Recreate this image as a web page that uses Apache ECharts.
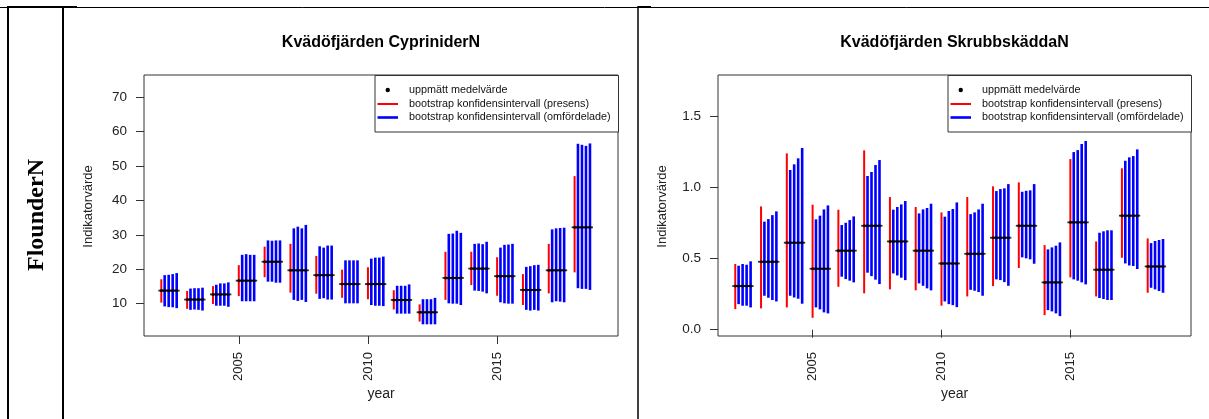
<!DOCTYPE html>
<html>
<head>
<meta charset="utf-8">
<title>FlounderN – Kvädöfjärden</title>
<script src="https://cdn.jsdelivr.net/npm/echarts@6/dist/echarts.min.js"></script>
<style>
  html, body { margin: 0; padding: 0; background: #fff; }
  #chart { width: 1209px; height: 419px; }
</style>
</head>
<body>
<div id="chart"></div>
<script>
// ---- data -------------------------------------------------------------
const years = [2002, 2003, 2004, 2005, 2006, 2007, 2008, 2009, 2010,
               2011, 2012, 2013, 2014, 2015, 2016, 2017, 2018];
const xTicks = [2005, 2010, 2015];

// Kvädöfjärden CypriniderN
const cypTicks = [10, 20, 30, 40, 50, 60, 70];
const cypMean = [13.8, 11.2, 12.7, 16.7, 22.2, 19.7, 18.3, 15.7, 15.7,
                 11.1, 7.5, 17.5, 20.2, 18.0, 14.0, 19.7, 32.2];
const cypPresLow = [10.3, 8.5, 9.9, 12.2, 17.7, 13.2, 12.9, 11.7, 11.3,
                    8.3, 4.8, 11.1, 15.4, 12.3, 9.6, 13.0, 19.1];
const cypPresHigh = [17.1, 13.7, 15.1, 21.2, 26.6, 27.4, 23.9, 19.9, 20.6,
                     13.9, 9.8, 25.1, 25.1, 23.5, 18.6, 27.4, 47.1];
const cypOmfLow = [
  [9.2, 9.0, 8.95, 8.7], [8.2, 8.3, 8.2, 8.0], [9.4, 9.4, 9.4, 9.1],
  [10.7, 10.7, 10.7, 10.7], [16.4, 16.4, 16.1, 16.1], [11.1, 10.8, 11.1, 10.5],
  [11.4, 11.6, 11.2, 11.2], [10.1, 10.1, 10.1, 10.1], [9.6, 9.4, 9.4, 9.3],
  [7.1, 7.1, 7.1, 7.1], [4.0, 4.0, 4.0, 4.0], [10.1, 10.0, 10.0, 9.6],
  [13.8, 13.7, 13.5, 13.0], [10.4, 10.1, 10.0, 10.0], [8.2, 8.0, 8.2, 8.0],
  [10.4, 10.7, 10.6, 10.4], [14.5, 14.3, 14.3, 14.0]
];
const cypOmfHigh = [
  [18.3, 18.4, 18.6, 18.9], [14.4, 14.5, 14.5, 14.65], [15.5, 15.9, 15.9, 16.2],
  [24.2, 24.4, 24.2, 24.2], [28.4, 28.3, 28.4, 28.4], [31.9, 32.4, 31.9, 32.9],
  [26.7, 26.3, 26.9, 26.9], [22.6, 22.6, 22.6, 22.6], [23.1, 23.4, 23.4, 23.7],
  [15.2, 15.2, 15.2, 15.6], [11.3, 11.3, 11.3, 11.7], [30.3, 30.4, 31.2, 30.6],
  [27.4, 27.5, 27.3, 28.0], [26.3, 27.1, 27.2, 27.4], [20.7, 20.9, 21.2, 21.3],
  [31.6, 31.9, 32.0, 32.1], [56.5, 56.2, 55.9, 56.6]
];

// Kvädöfjärden SkrubbskäddaN
const skrTicks = [0, 0.5, 1.0, 1.5];
const skrMean = [0.307, 0.478, 0.612, 0.429, 0.556, 0.731, 0.621, 0.556, 0.466,
                 0.534, 0.647, 0.731, 0.333, 0.755, 0.422, 0.802, 0.445];
const skrPresLow = [0.145, 0.150, 0.157, 0.084, 0.302, 0.256, 0.284, 0.277, 0.169,
                    0.234, 0.307, 0.434, 0.103, 0.368, 0.234, 0.506, 0.260];
const skrPresHigh = [0.462, 0.867, 1.240, 0.879, 0.844, 1.261, 0.933, 0.863, 0.825,
                     0.933, 1.008, 1.036, 0.595, 1.200, 0.621, 1.135, 0.642];
const skrOmfLow = [
  [0.180, 0.169, 0.169, 0.157], [0.239, 0.225, 0.209, 0.199], [0.239, 0.227, 0.218, 0.183],
  [0.157, 0.143, 0.122, 0.115], [0.373, 0.356, 0.345, 0.333], [0.401, 0.377, 0.352, 0.321],
  [0.396, 0.382, 0.366, 0.349], [0.326, 0.309, 0.291, 0.277], [0.199, 0.180, 0.173, 0.159],
  [0.281, 0.274, 0.265, 0.239], [0.354, 0.349, 0.335, 0.309], [0.509, 0.502, 0.495, 0.464],
  [0.138, 0.129, 0.115, 0.096], [0.354, 0.345, 0.333, 0.319], [0.223, 0.216, 0.209, 0.209],
  [0.466, 0.452, 0.448, 0.427], [0.295, 0.284, 0.272, 0.260]
];
const skrOmfHigh = [
  [0.450, 0.462, 0.457, 0.481], [0.760, 0.778, 0.806, 0.832], [1.123, 1.163, 1.205, 1.278],
  [0.776, 0.802, 0.846, 0.874], [0.736, 0.752, 0.771, 0.797], [1.081, 1.109, 1.158, 1.193],
  [0.844, 0.863, 0.881, 0.905], [0.818, 0.846, 0.856, 0.886], [0.795, 0.835, 0.849, 0.895],
  [0.813, 0.825, 0.846, 0.886], [0.975, 0.989, 0.994, 1.024], [0.970, 0.977, 0.980, 1.024],
  [0.565, 0.579, 0.591, 0.614], [1.249, 1.263, 1.306, 1.327], [0.682, 0.692, 0.699, 0.699],
  [1.188, 1.212, 1.221, 1.268], [0.609, 0.624, 0.631, 0.638]
];

const legendLabels = ['uppmätt medelvärde',
                      'bootstrap konfidensintervall (presens)',
                      'bootstrap konfidensintervall (omfördelade)'];

// ---- layout / style ----------------------------------------------------
const FONT = '"Liberation Sans", Arial, Helvetica, sans-serif';
const SERIF = '"Liberation Serif", "Times New Roman", serif';
const RED = '#ff0000', BLUE = '#0000ff';
const OMF_SHIFT = [0.13, 0.285, 0.44, 0.595];   // horizontal spread of the four resampled intervals
const X_MIN = 2001.33, X_MAX = 2019.68;

const panels = [
  { title: 'Kvädöfjärden CypriniderN', left: 144, width: 474,
    yMin: 0.6, yMax: 76.5, ticks: cypTicks, fmt: v => String(v),
    mean: cypMean, pLo: cypPresLow, pHi: cypPresHigh, oLo: cypOmfLow, oHi: cypOmfHigh },
  { title: 'Kvädöfjärden SkrubbskäddaN', left: 718, width: 473,
    yMin: -0.044, yMax: 1.791, ticks: skrTicks, fmt: v => v.toFixed(1),
    mean: skrMean, pLo: skrPresLow, pHi: skrPresHigh, oLo: skrOmfLow, oHi: skrOmfHigh }
];
const GRID_TOP = 75, GRID_H = 261;

function presData(p) {
  return years.map((y, i) => [y, p.pLo[i], p.pHi[i]]);
}
function omfData(p) {
  const out = [];
  years.forEach((y, i) => OMF_SHIFT.forEach((s, k) => out.push([y + s, p.oLo[i][k], p.oHi[i][k]])));
  return out;
}
function meanData(p) {
  const out = [];
  years.forEach((y, i) => [0].concat(OMF_SHIFT).forEach(s => out.push([y + s, p.mean[i]])));
  return out;
}
function intervalRenderer(color, width) {
  return function (params, api) {
    const a = api.coord([api.value(0), api.value(1)]);
    const b = api.coord([api.value(0), api.value(2)]);
    return {
      type: 'line',
      shape: { x1: a[0], y1: a[1], x2: b[0], y2: b[1] },
      style: { stroke: color, lineWidth: width, lineCap: 'butt' }
    };
  };
}

const grid = [], xAxis = [], yAxis = [], series = [], graphic = [];

panels.forEach((p, gi) => {
  grid.push({ left: p.left, top: GRID_TOP, width: p.width, height: GRID_H,
              show: true, borderColor: '#333', borderWidth: 1, containLabel: false });
  xAxis.push({
    type: 'value', gridIndex: gi, min: X_MIN, max: X_MAX,
    axisLine: { show: false }, splitLine: { show: false },
    axisTick: { show: true, customValues: xTicks, length: 8, lineStyle: { color: '#333', width: 1 } },
    axisLabel: { customValues: xTicks, rotate: 90, margin: 16, fontSize: 13,
                 color: '#222', fontFamily: FONT, formatter: v => String(v) }
  });
  yAxis.push({
    type: 'value', gridIndex: gi, min: p.yMin, max: p.yMax,
    axisLine: { show: false }, splitLine: { show: false },
    axisTick: { show: true, customValues: p.ticks, length: 8, lineStyle: { color: '#333', width: 1 } },
    axisLabel: { customValues: p.ticks, margin: 17, fontSize: 13.5,
                 color: '#222', fontFamily: FONT, formatter: p.fmt }
  });

  series.push({
    type: 'custom', name: legendLabels[1], xAxisIndex: gi, yAxisIndex: gi,
    renderItem: intervalRenderer(RED, 2), encode: { x: 0, y: [1, 2] },
    data: presData(p), silent: true, z: 2
  });
  series.push({
    type: 'custom', name: legendLabels[2], xAxisIndex: gi, yAxisIndex: gi,
    renderItem: intervalRenderer(BLUE, 2.6), encode: { x: 0, y: [1, 2] },
    data: omfData(p), silent: true, z: 3
  });
  series.push({
    type: 'scatter', name: legendLabels[0], xAxisIndex: gi, yAxisIndex: gi,
    symbol: 'rect', symbolSize: [6, 1.8], itemStyle: { color: '#000' },
    data: meanData(p), silent: true, z: 4
  });
  series.push({
    type: 'scatter', name: legendLabels[0], xAxisIndex: gi, yAxisIndex: gi,
    symbol: 'circle', symbolSize: 3, itemStyle: { color: '#000' },
    data: meanData(p), silent: true, z: 5
  });

  const cx = p.left + p.width / 2;
  const right = p.left + p.width;
  // panel title
  graphic.push({ type: 'text', x: cx, y: 42.5,
    style: { text: p.title, font: 'bold 16px ' + FONT, fill: '#000',
             textAlign: 'center', textVerticalAlign: 'middle' } });
  // axis names
  graphic.push({ type: 'text', x: cx, y: 394,
    style: { text: 'year', font: '14px ' + FONT, fill: '#222',
             textAlign: 'center', textVerticalAlign: 'middle' } });
  graphic.push({ type: 'text', x: p.left - 56, y: GRID_TOP + GRID_H / 2 + 1, rotation: Math.PI / 2,
    style: { text: 'Indikatorvärde', font: '13px ' + FONT, fill: '#222',
             textAlign: 'center', textVerticalAlign: 'middle' } });

  // legend box in the upper right corner of the plot
  const lw = 243.5, lh = 56.5;
  const lx = right - lw;
  graphic.push({ type: 'rect', shape: { x: lx + 0.5, y: GRID_TOP + 0.5, width: lw, height: lh },
    style: { fill: '#fff', stroke: '#333', lineWidth: 1 }, z: 10 });
  const keyX1 = lx + 3, keyX2 = lx + 23.5, textX = lx + 34.5;
  const rows = [GRID_TOP + 15, GRID_TOP + 29, GRID_TOP + 42.5];
  graphic.push({ type: 'circle', shape: { cx: (keyX1 + keyX2) / 2, cy: rows[0], r: 2.2 },
    style: { fill: '#000' }, z: 11 });
  graphic.push({ type: 'line', shape: { x1: keyX1, y1: rows[1], x2: keyX2, y2: rows[1] },
    style: { stroke: RED, lineWidth: 2 }, z: 11 });
  graphic.push({ type: 'line', shape: { x1: keyX1, y1: rows[2], x2: keyX2, y2: rows[2] },
    style: { stroke: BLUE, lineWidth: 2.6 }, z: 11 });
  legendLabels.forEach((t, i) => graphic.push({ type: 'text', x: textX, y: rows[i], z: 11,
    style: { text: t, font: '10.8px ' + FONT, fill: '#111',
             textAlign: 'left', textVerticalAlign: 'middle' } }));
});

// table frame around the figure row
const frame = [
  { x1: 0, y1: 7.5, x2: 1209, y2: 7.5, w: 1 },
  { x1: 7, y1: 7, x2: 77, y2: 7, w: 2 },
  { x1: 638, y1: 7, x2: 651, y2: 7, w: 2 },
  { x1: 8, y1: 6, x2: 8, y2: 419, w: 2 },
  { x1: 63, y1: 6, x2: 63, y2: 419, w: 2 },
  { x1: 638, y1: 6, x2: 638, y2: 419, w: 1.5 }
];
frame.forEach(f => graphic.push({ type: 'line', shape: { x1: f.x1, y1: f.y1, x2: f.x2, y2: f.y2 },
  style: { stroke: '#000', lineWidth: f.w }, z: 20 }));
// row header
graphic.push({ type: 'text', x: 37, y: 215, rotation: Math.PI / 2,
  style: { text: 'FlounderN', font: 'bold 24px ' + SERIF, fill: '#000',
           textAlign: 'center', textVerticalAlign: 'middle' }, z: 20 });

const chart = echarts.init(document.getElementById('chart'), null, { renderer: 'canvas' });
chart.setOption({
  animation: false,
  backgroundColor: '#fff',
  grid, xAxis, yAxis, series, graphic
});
</script>
</body>
</html>
